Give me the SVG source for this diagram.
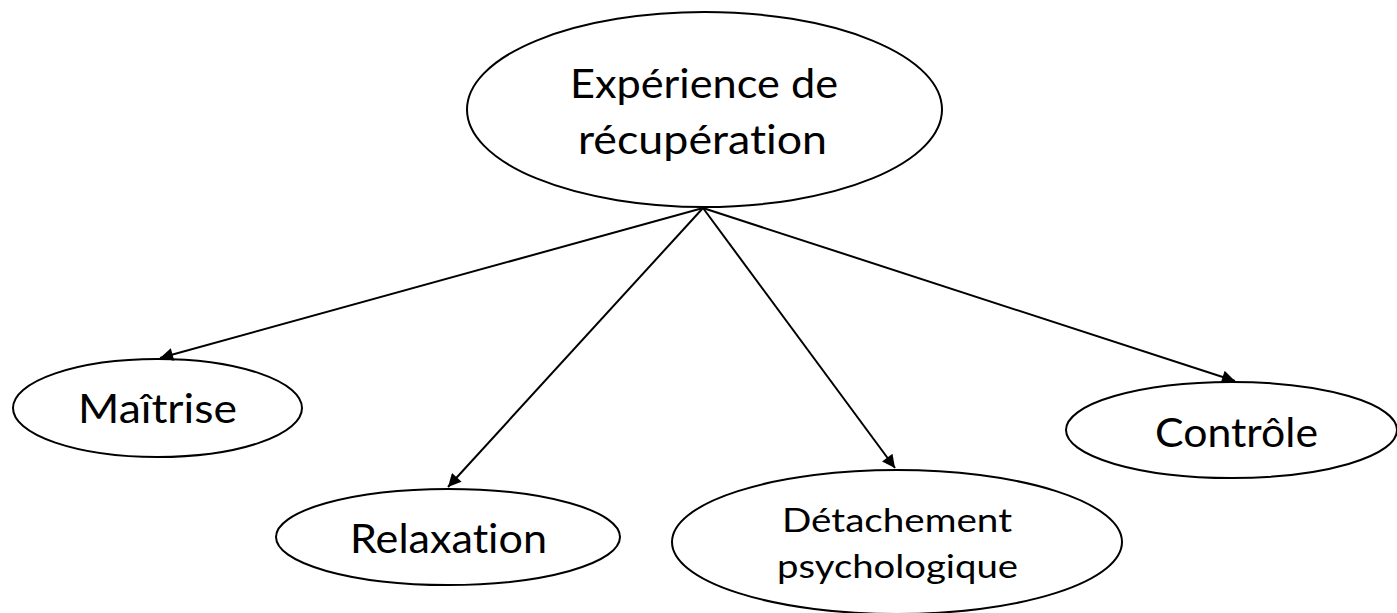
<svg xmlns="http://www.w3.org/2000/svg" width="1397" height="613" viewBox="0 0 1397 613">
<defs>
<marker id="ah" viewBox="0 0 10 10" refX="10" refY="5" markerWidth="8" markerHeight="6.5" markerUnits="strokeWidth" orient="auto">
<path d="M0,0 L10,5 L0,10 z" fill="#000"/>
</marker>
<style>
.n{fill:#fff;stroke:#000;stroke-width:2}
.t{font-family:Lato,"Open Sans","Liberation Sans",sans-serif;font-size:40px;fill:#000;text-anchor:middle;font-variant-ligatures:none;font-feature-settings:"liga" 0}
.s{font-size:33px}
.c{stroke:#000;stroke-width:2;fill:none;marker-end:url(#ah)}
</style>
</defs>
<rect width="1397" height="613" fill="#fff"/>
<g id="n-experience">
<ellipse class="n" cx="704.5" cy="109.5" rx="237.5" ry="97.5"/>
<text class="t" x="704" y="98" textLength="268" lengthAdjust="spacingAndGlyphs">Expérience de</text>
<text class="t" x="702.5" y="154" textLength="249" lengthAdjust="spacingAndGlyphs">récupération</text>
</g>
<g id="n-maitrise">
<ellipse class="n" cx="157.5" cy="408" rx="144.5" ry="49"/>
<text class="t" x="157.5" y="423" textLength="159" lengthAdjust="spacingAndGlyphs">Maîtrise</text>
</g>
<g id="n-relaxation">
<ellipse class="n" cx="448" cy="537" rx="172" ry="48"/>
<text class="t" x="448.5" y="553" textLength="197" lengthAdjust="spacingAndGlyphs">Relaxation</text>
</g>
<g id="n-detachement">
<ellipse class="n" cx="897" cy="542" rx="225" ry="72"/>
<text class="t s" x="897" y="532" textLength="230" lengthAdjust="spacingAndGlyphs">Détachement</text>
<text class="t s" x="897.5" y="578" textLength="241" lengthAdjust="spacingAndGlyphs">psychologique</text>
</g>
<g id="n-controle">
<ellipse class="n" cx="1231.5" cy="430" rx="165.5" ry="48"/>
<text class="t" x="1236.5" y="447" textLength="163" lengthAdjust="spacingAndGlyphs">Contrôle</text>
</g>
<g id="connectors">
<line class="c" x1="703" y1="208" x2="160" y2="358"/>
<line class="c" x1="703" y1="208" x2="448" y2="487"/>
<line class="c" x1="703" y1="208" x2="895" y2="468"/>
<line class="c" x1="703" y1="208" x2="1235" y2="381"/>
</g>
</svg>
